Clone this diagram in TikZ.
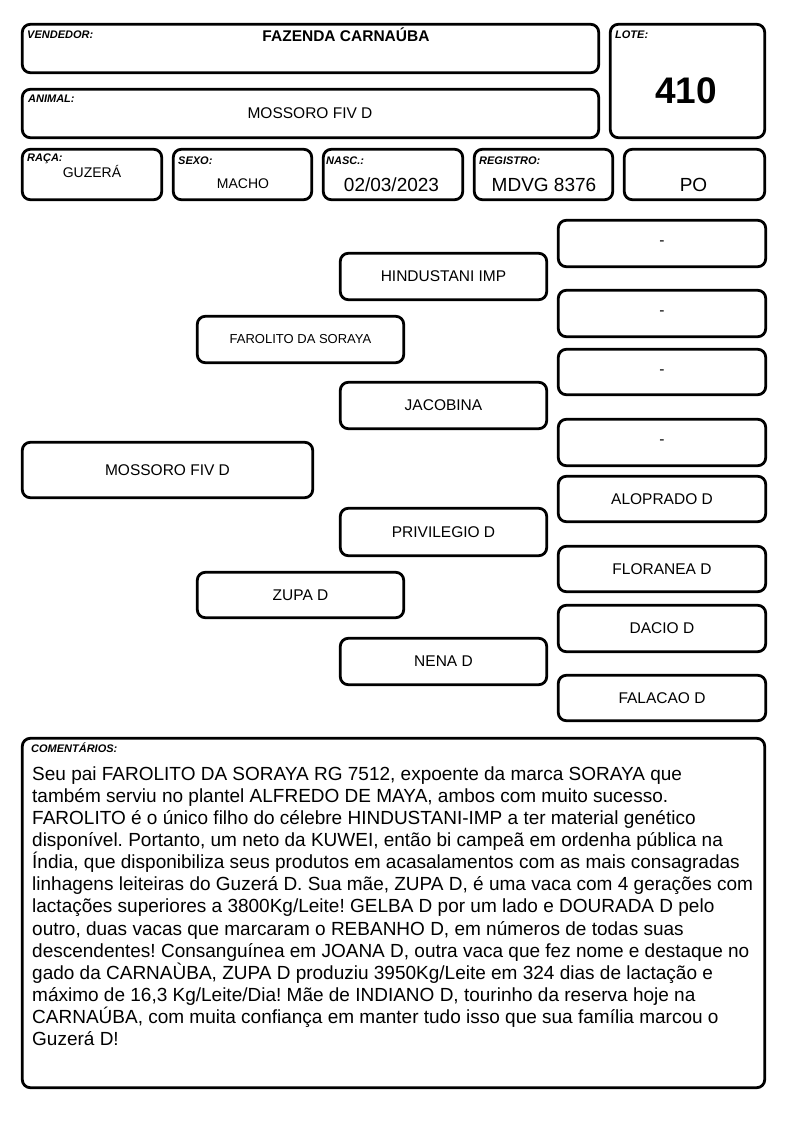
\documentclass[tikz,border=0pt]{standalone}
\usepackage{fontspec}
\setmainfont{Liberation Sans}
\frenchspacing
\begin{document}
\begin{tikzpicture}[x=1pt,y=-1pt,
  box/.style={draw, line width=2.8pt, rounded corners=8pt, inner sep=0pt, outer sep=0pt, font=\fontsize{15.5}{17}\selectfont},
  lbl/.style={font=\fontsize{11}{12}\selectfont\bfseries\itshape, anchor=base west, inner sep=0pt},
  val/.style={anchor=base, inner sep=0pt},
  small/.style={font=\fontsize{13}{15}\selectfont}]
\useasboundingbox (0,0) rectangle (794,1123);
\newcommand\mybox[7][]{%
  \node[box,#1, minimum width={#5-#3-2.6}, minimum height={#6-#4-2.6}] (#2) at ({(#3+#5)/2},{(#4+#6)/2}) {#7};}
% header boxes
\mybox{vend}{21}{23}{600}{74}{}
\mybox{lote}{609}{23}{766}{139}{}
\mybox{anim}{21}{88}{600}{139}{}
\mybox{raca}{21}{148}{163}{201}{}
\mybox{sexo}{172}{148}{313}{201}{}
\mybox{nasc}{322}{148}{464}{201}{}
\mybox{regi}{473}{148}{614}{201}{}
\mybox{po}{623}{148}{766}{201}{}
% header texts
\node[lbl] (lvend) at (27,39) {VENDEDOR:};
\node[val, font=\fontsize{15.5}{17}\selectfont\bfseries] (tvend) at (346,42) {FAZENDA CARNAÚBA};
\node[lbl] (llote) at (615,39) {LOTE:};
\node[val, font=\fontsize{37}{40}\selectfont\bfseries] (tlote) at (686,104) {410};
\node[lbl] (lanim) at (28,103) {ANIMAL:};
\node[val, font=\fontsize{15.5}{17}\selectfont] (tanim) at (310,119) {MOSSORO FIV D};
\node[lbl] (lraca) at (27,162) {RAÇA:};
\node[val, font=\fontsize{14}{16}\selectfont] (traca) at (92,178) {GUZERÁ};
\node[lbl] (lsexo) at (178,165) {SEXO:};
\node[val, font=\fontsize{14}{16}\selectfont] (tsexo) at (243,189) {MACHO};
\node[lbl] (lnasc) at (326,165) {NASC.:};
\node[val, font=\fontsize{19}{21}\selectfont] (tnasc) at (391.5,192) {02/03/2023};
\node[lbl] (lregi) at (479,165) {REGISTRO:};
\node[val, font=\fontsize{19}{21}\selectfont] (tregi) at (544,192) {MDVG 8376};
\node[val, font=\fontsize{19}{21}\selectfont] (tpo) at (693.5,192) {PO};
% pedigree
\mybox{animal}{21}{441}{314}{499}{MOSSORO FIV D}
\mybox[small]{pai}{196}{315}{405}{364}{FAROLITO DA SORAYA}
\mybox{mae}{196}{571}{405}{619}{ZUPA D}
\mybox{avp}{339}{252}{548}{301}{HINDUSTANI IMP}
\mybox{avap}{339}{381}{548}{430}{JACOBINA}
\mybox{avm}{339}{507}{548}{557}{PRIVILEGIO D}
\mybox{avam}{339}{637}{548}{686}{NENA D}
\mybox{b1}{557}{219}{767}{268}{-}
\mybox{b2}{557}{289}{767}{338}{-}
\mybox{b3}{557}{348}{767}{396}{-}
\mybox{b4}{557}{418}{767}{467}{-}
\mybox{b5}{557}{475}{767}{523}{ALOPRADO D}
\mybox{b6}{557}{545}{767}{593}{FLORANEA D}
\mybox{b7}{557}{604}{767}{653}{DACIO D}
\mybox{b8}{557}{674}{767}{722}{FALACAO D}
% comments
\mybox{coment}{21}{737}{766}{1089}{}
\node[lbl] (lcoment) at (31,752) {COMENTÁRIOS:};
\node[anchor=north west, inner sep=0pt, align=left, font=\fontsize{19}{22.15}\selectfont] (tcoment) at (32,766.1) {Seu pai FAROLITO DA SORAYA RG 7512, expoente da marca SORAYA que\\
também serviu no plantel ALFREDO DE MAYA, ambos com muito sucesso.\\
FAROLITO é o único filho do célebre HINDUSTANI-IMP a ter material genético\\
disponível. Portanto, um neto da KUWEI, então bi campeã em ordenha pública na\\
Índia, que disponibiliza seus produtos em acasalamentos com as mais consagradas\\
linhagens leiteiras do Guzerá D. Sua mãe, ZUPA D, é uma vaca com 4 gerações com\\
lactações superiores a 3800Kg/Leite! GELBA D por um lado e DOURADA D pelo\\
outro, duas vacas que marcaram o REBANHO D, em números de todas suas\\
descendentes! Consanguínea em JOANA D, outra vaca que fez nome e destaque no\\
gado da CARNAÙBA, ZUPA D produziu 3950Kg/Leite em 324 dias de lactação e\\
máximo de 16,3 Kg/Leite/Dia! Mãe de INDIANO D, tourinho da reserva hoje na\\
CARNAÚBA, com muita confiança em manter tudo isso que sua família marcou o\\
Guzerá D!};
\end{tikzpicture}
\end{document}
